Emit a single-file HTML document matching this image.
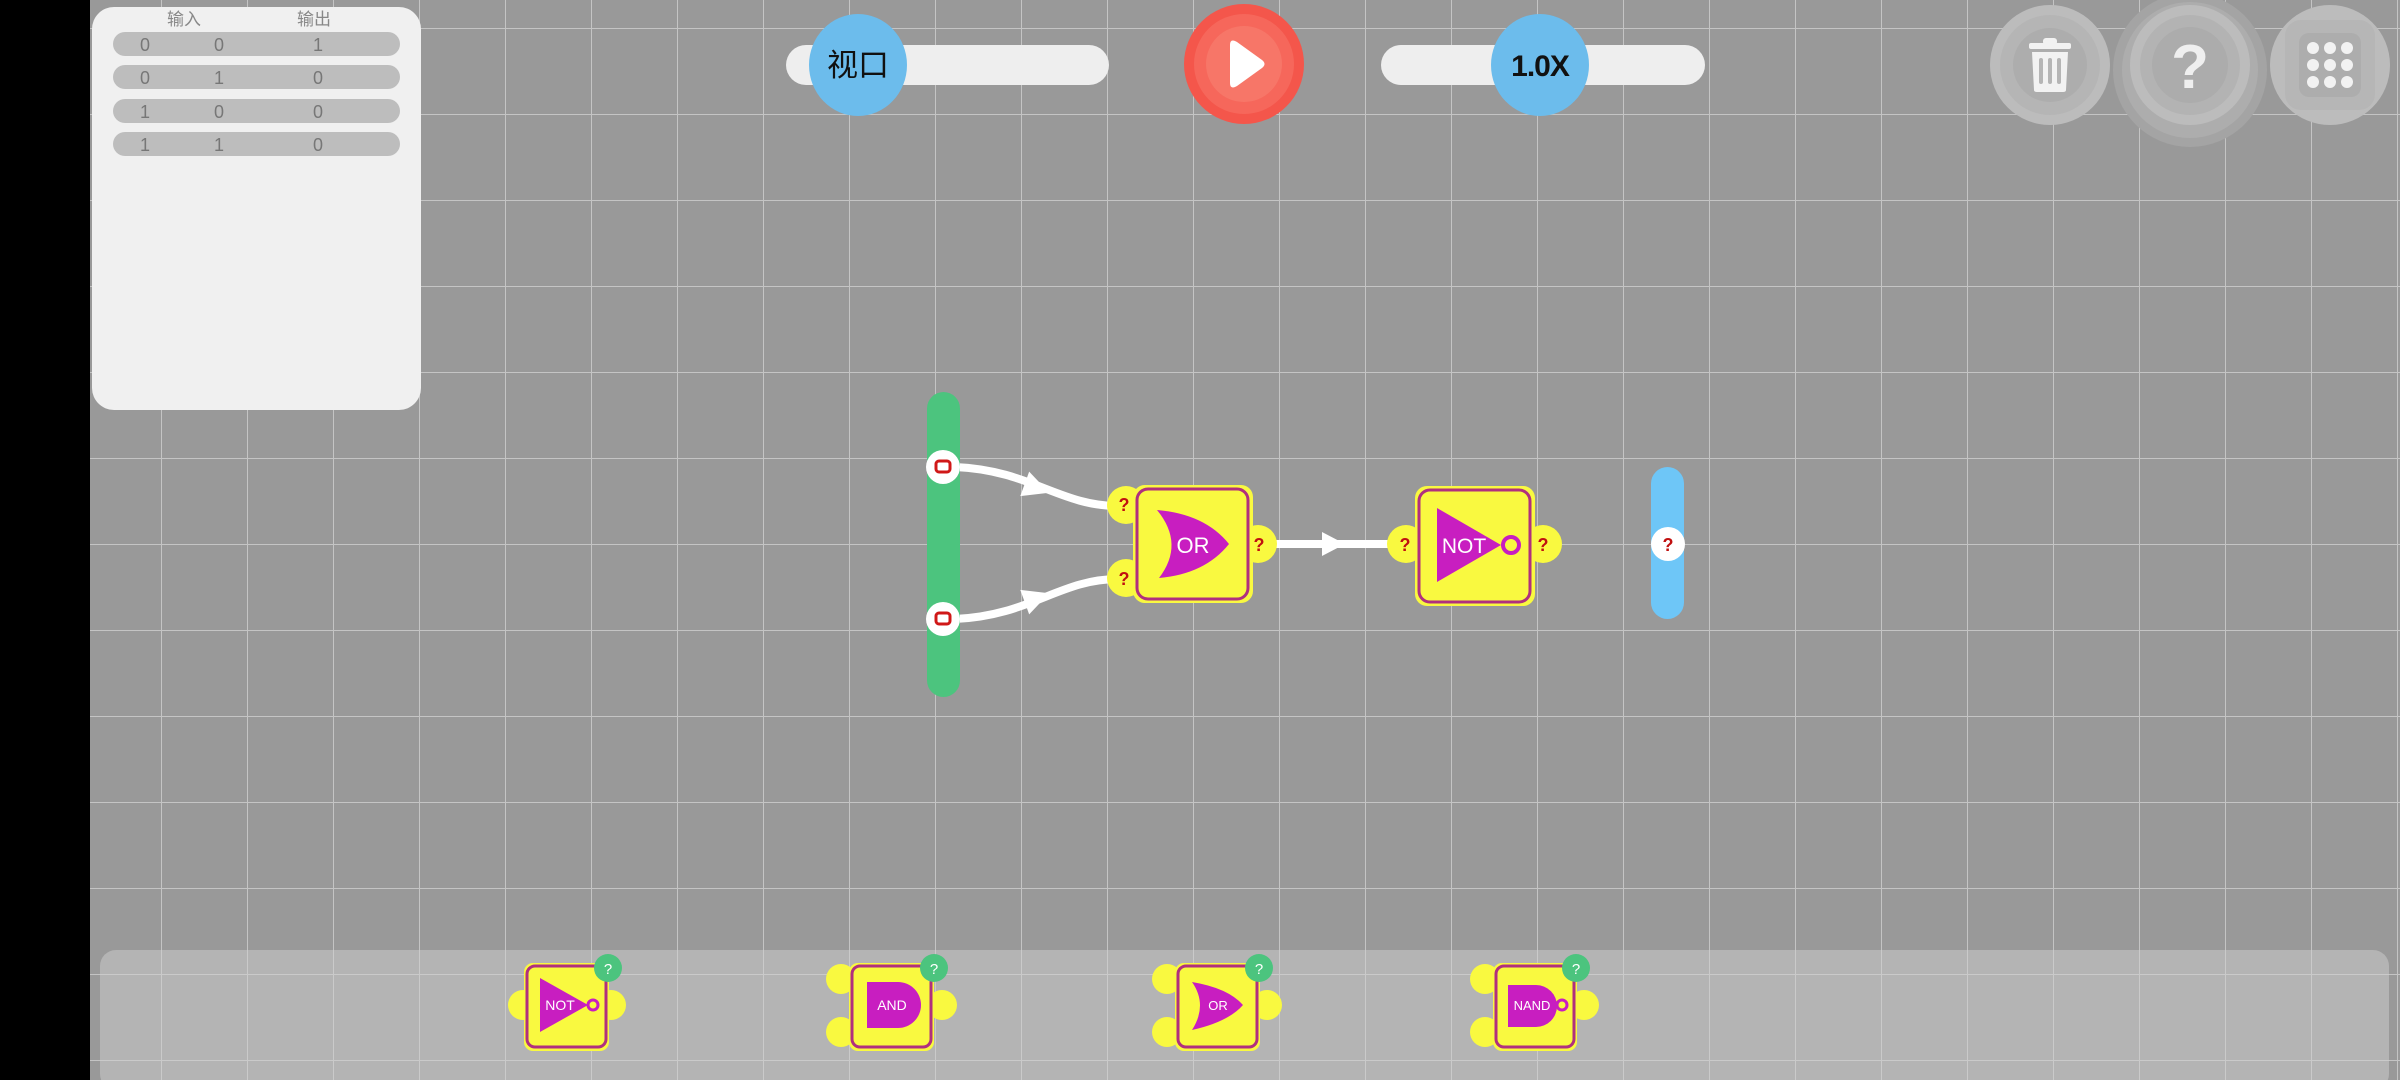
<!DOCTYPE html>
<html><head><meta charset="utf-8"><style>
html,body{margin:0;padding:0;width:2400px;height:1080px;overflow:hidden;background:#999}
svg{display:block}
text{font-family:"Liberation Sans","Noto Sans CJK SC",sans-serif}
</style></head><body>
<svg width="2400" height="1080" viewBox="0 0 2400 1080" xmlns="http://www.w3.org/2000/svg">
<defs>
<pattern id="grid" x="75" y="28" width="86" height="86" patternUnits="userSpaceOnUse">
<path d="M0 0V86M0 0H86" stroke="#c4c4c4" stroke-width="2" fill="none"/>
</pattern>
<pattern id="grid2" x="75" y="28" width="86" height="86" patternUnits="userSpaceOnUse">
<path d="M0 0V86M0 0H86" stroke="#cfcfcf" stroke-width="2" fill="none"/>
</pattern>
</defs>
<rect width="2400" height="1080" fill="#999"/>
<rect x="90" width="2310" height="1080" fill="url(#grid)"/>
<rect x="0" y="0" width="90" height="1080" fill="#000"/>

<!-- truth table -->
<rect x="92" y="7" width="329" height="403" rx="22" fill="#f0f0f0"/>
<text x="184" y="25" font-size="17" fill="#888" text-anchor="middle">输入</text>
<text x="314" y="25" font-size="17" fill="#888" text-anchor="middle">输出</text>
<g fill="#bdbdbd">
<rect x="113" y="32" width="287" height="24" rx="12"/>
<rect x="113" y="65" width="287" height="24" rx="12"/>
<rect x="113" y="99" width="287" height="24" rx="12"/>
<rect x="113" y="132" width="287" height="24" rx="12"/>
</g>
<g font-size="18" fill="#777" text-anchor="middle">
<text x="145" y="51">0</text><text x="219" y="51">0</text><text x="318" y="51">1</text>
<text x="145" y="84">0</text><text x="219" y="84">1</text><text x="318" y="84">0</text>
<text x="145" y="118">1</text><text x="219" y="118">0</text><text x="318" y="118">0</text>
<text x="145" y="151">1</text><text x="219" y="151">1</text><text x="318" y="151">0</text>
</g>

<!-- viewport slider -->
<rect x="786" y="45" width="323" height="40" rx="20" fill="#eeeeee"/>
<ellipse cx="858" cy="65" rx="49" ry="51" fill="#6cbcec"/>
<text x="858" y="76" font-size="31" fill="#111" text-anchor="middle">视口</text>

<!-- play -->
<circle cx="1244" cy="64" r="60" fill="#f4564b"/>
<circle cx="1244" cy="64" r="50" fill="#f6675b"/>
<circle cx="1244" cy="64" r="38" fill="#f77668"/>
<path d="M1230 45 Q1230 38 1237 42 L1262 60 Q1267 64 1262 68 L1237 86 Q1230 90 1230 83 Z" fill="#fff"/>

<!-- speed slider -->
<rect x="1381" y="45" width="324" height="40" rx="20" fill="#eeeeee"/>
<ellipse cx="1540" cy="65" rx="49" ry="51" fill="#6cbcec"/>
<text x="1540" y="76" font-size="30" fill="#111" text-anchor="middle" font-weight="bold" letter-spacing="-1">1.0X</text>

<!-- right buttons -->
<circle cx="2050" cy="65" r="60" fill="#bcbcbc"/>
<circle cx="2050" cy="65" r="50" fill="#b5b5b5"/>
<circle cx="2050" cy="65" r="37" fill="#adadad"/>
<g fill="#f2f2f2">
<rect x="2029" y="43" width="42" height="6" rx="2"/>
<rect x="2043" y="38" width="14" height="7" rx="3"/>
<path d="M2032 52 H2068 L2066 90 Q2066 92 2063 92 H2037 Q2034 92 2034 90 Z"/>
</g>
<g fill="#b5b5b5"><rect x="2039" y="58" width="4" height="26" rx="2"/><rect x="2048" y="58" width="4" height="26" rx="2"/><rect x="2057" y="58" width="4" height="26" rx="2"/></g>

<circle cx="2190" cy="70" r="77" fill="#a4a4a4"/>
<circle cx="2190" cy="70" r="68" fill="#adadad"/>
<circle cx="2190" cy="65" r="60" fill="#bcbcbc"/>
<circle cx="2190" cy="65" r="50" fill="#b3b3b3"/>
<circle cx="2190" cy="65" r="38" fill="#acacac"/>
<text x="2190" y="88" font-size="62" font-weight="bold" fill="#efefef" text-anchor="middle">?</text>

<circle cx="2330" cy="65" r="60" fill="#bcbcbc"/>
<rect x="2285" y="20" width="90" height="90" rx="16" fill="#b6b6b6"/>
<rect x="2299" y="33" width="62" height="64" rx="10" fill="#adadad"/>
<g fill="#f2f2f2">
<circle cx="2313" cy="48" r="6"/><circle cx="2330" cy="48" r="6"/><circle cx="2347" cy="48" r="6"/>
<circle cx="2313" cy="65" r="6"/><circle cx="2330" cy="65" r="6"/><circle cx="2347" cy="65" r="6"/>
<circle cx="2313" cy="82" r="6"/><circle cx="2330" cy="82" r="6"/><circle cx="2347" cy="82" r="6"/>
</g>

<!-- wires -->
<g stroke="#fff" stroke-width="8" fill="none" stroke-linecap="round">
<path d="M955 467 C1030 470 1060 506 1118 506"/>
<path d="M955 619 C1030 616 1060 579 1118 579"/>
<path d="M1270 544 H1400"/>
</g>
<g fill="#fff">
<path d="M-12 -13 L14 0 L-12 13 Z" transform="translate(1036 488) rotate(20)"/>
<path d="M-12 -13 L14 0 L-12 13 Z" transform="translate(1036 598) rotate(-20)"/>
<path d="M1322 532 L1345 544 L1322 556 Z"/>
</g>

<!-- input bar -->
<rect x="927" y="392" width="33" height="305" rx="16.5" fill="#4cc47e"/>
<circle cx="943" cy="467" r="17" fill="#fff"/>
<circle cx="943" cy="619" r="17" fill="#fff"/>
<rect x="936" y="461" width="14" height="11" rx="3" fill="none" stroke="#d01818" stroke-width="3"/>
<rect x="936" y="613" width="14" height="11" rx="3" fill="none" stroke="#d01818" stroke-width="3"/>

<!-- OR gate -->
<g>
<circle cx="1126" cy="505" r="19" fill="#f9f940"/>
<circle cx="1126" cy="578" r="19" fill="#f9f940"/>
<circle cx="1258" cy="544" r="19" fill="#f9f940"/>
<rect x="1133" y="485" width="120" height="118" rx="12" fill="#f9f940"/>
<rect x="1137" y="489" width="111" height="110" rx="11" fill="none" stroke="#b0307e" stroke-width="3"/>
<path d="M1157 510 Q1205 514 1229 544 Q1205 574 1159 578 Q1185 544 1157 510 Z" fill="#c81ec0"/>
<text x="1193" y="553" font-size="22" fill="#fff" text-anchor="middle">OR</text>
<g font-size="18" font-weight="bold" fill="#c01010" text-anchor="middle">
<text x="1124" y="511">?</text><text x="1124" y="585">?</text><text x="1259" y="551">?</text>
</g>
</g>

<!-- NOT gate -->
<g>
<circle cx="1406" cy="544" r="19" fill="#f9f940"/>
<circle cx="1543" cy="544" r="19" fill="#f9f940"/>
<rect x="1415" y="486" width="120" height="120" rx="12" fill="#f9f940"/>
<rect x="1419" y="490" width="111" height="112" rx="11" fill="none" stroke="#b0307e" stroke-width="3"/>
<path d="M1437 508 L1501 545 L1437 582 Z" fill="#c81ec0"/>
<circle cx="1511" cy="545" r="8" fill="none" stroke="#c81ec0" stroke-width="4"/>
<text x="1464" y="553" font-size="21" fill="#fff" text-anchor="middle">NOT</text>
<g font-size="18" font-weight="bold" fill="#c01010" text-anchor="middle">
<text x="1405" y="551">?</text><text x="1543" y="551">?</text>
</g>
</g>

<!-- output bar -->
<rect x="1651" y="467" width="33" height="152" rx="16.5" fill="#6ec6f7"/>
<circle cx="1668" cy="544" r="17" fill="#fff"/>
<text x="1668" y="551" font-size="18" font-weight="bold" fill="#c01010" text-anchor="middle">?</text>

<!-- toolbox -->
<rect x="100" y="950" width="2289" height="140" rx="16" fill="#b4b4b4"/>
<rect x="100" y="950" width="2289" height="140" fill="url(#grid2)" opacity="0.8"/>

<!-- NOT tool -->
<g>
<circle cx="523" cy="1005" r="15" fill="#f9f940"/><circle cx="611" cy="1005" r="15" fill="#f9f940"/>
<rect x="524" y="963" width="85" height="88" rx="9" fill="#f9f940"/>
<rect x="527" y="966" width="79" height="81" rx="8" fill="none" stroke="#b0307e" stroke-width="3"/>
<path d="M540 978 L588 1005 L540 1032 Z" fill="#c81ec0"/>
<circle cx="593" cy="1005" r="5" fill="none" stroke="#c81ec0" stroke-width="3"/>
<text x="560" y="1010" font-size="14" fill="#fff" text-anchor="middle">NOT</text>
<circle cx="608" cy="968" r="14" fill="#4cc47e"/>
<text x="608" y="974" font-size="15" fill="#fff" text-anchor="middle">?</text>
</g>
<!-- AND tool -->
<g>
<circle cx="841" cy="979" r="15" fill="#f9f940"/><circle cx="841" cy="1032" r="15" fill="#f9f940"/><circle cx="942" cy="1005" r="15" fill="#f9f940"/>
<rect x="849" y="963" width="85" height="88" rx="9" fill="#f9f940"/>
<rect x="852" y="966" width="79" height="81" rx="8" fill="none" stroke="#b0307e" stroke-width="3"/>
<path d="M867 982 H898 A23 23 0 0 1 898 1028 H867 Z" fill="#c81ec0"/>
<text x="892" y="1010" font-size="14" fill="#fff" text-anchor="middle">AND</text>
<circle cx="934" cy="968" r="14" fill="#4cc47e"/>
<text x="934" y="974" font-size="15" fill="#fff" text-anchor="middle">?</text>
</g>
<!-- OR tool -->
<g>
<circle cx="1167" cy="979" r="15" fill="#f9f940"/><circle cx="1167" cy="1032" r="15" fill="#f9f940"/><circle cx="1267" cy="1005" r="15" fill="#f9f940"/>
<rect x="1175" y="963" width="85" height="88" rx="9" fill="#f9f940"/>
<rect x="1178" y="966" width="79" height="81" rx="8" fill="none" stroke="#b0307e" stroke-width="3"/>
<path d="M1192 982 Q1228 988 1243 1005 Q1228 1022 1192 1030 Q1208 1005 1192 982 Z" fill="#c81ec0"/>
<text x="1218" y="1010" font-size="13" fill="#fff" text-anchor="middle">OR</text>
<circle cx="1259" cy="968" r="14" fill="#4cc47e"/>
<text x="1259" y="974" font-size="15" fill="#fff" text-anchor="middle">?</text>
</g>
<!-- NAND tool -->
<g>
<circle cx="1485" cy="979" r="15" fill="#f9f940"/><circle cx="1485" cy="1032" r="15" fill="#f9f940"/><circle cx="1584" cy="1005" r="15" fill="#f9f940"/>
<rect x="1493" y="963" width="84" height="88" rx="9" fill="#f9f940"/>
<rect x="1496" y="966" width="78" height="81" rx="8" fill="none" stroke="#b0307e" stroke-width="3"/>
<path d="M1508 985 H1536 A20 20 0 0 1 1536 1027 H1508 Z" fill="#c81ec0"/>
<circle cx="1562" cy="1005" r="5" fill="none" stroke="#c81ec0" stroke-width="3"/>
<text x="1532" y="1010" font-size="13" fill="#fff" text-anchor="middle">NAND</text>
<circle cx="1576" cy="968" r="14" fill="#4cc47e"/>
<text x="1576" y="974" font-size="15" fill="#fff" text-anchor="middle">?</text>
</g>
</svg>
</body></html>
